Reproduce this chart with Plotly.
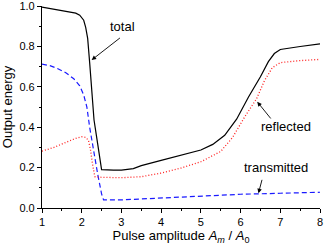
import plotly.graph_objects as go

# total output energy (black solid)
total_x = [1.0, 1.3, 1.6, 1.75, 1.85, 1.95, 2.05, 2.1, 2.15, 2.2, 2.25, 2.31, 2.4, 2.5,
           2.8, 3.0, 3.3, 3.5, 4.0, 4.5, 5.0, 5.3, 5.6, 5.9, 6.2, 6.5, 6.7, 6.85, 7.0, 7.5, 8.0]
total_y = [0.995, 0.985, 0.975, 0.968, 0.965, 0.955, 0.93, 0.895, 0.84, 0.72, 0.58, 0.436, 0.32, 0.19,
           0.188, 0.188, 0.195, 0.21, 0.236, 0.26, 0.287, 0.315, 0.36, 0.44, 0.55, 0.65, 0.725, 0.765, 0.785, 0.80, 0.813]

# reflected (red dotted)
refl_x = [1.0, 1.3, 1.6, 1.85, 2.0, 2.1, 2.17, 2.22, 2.27, 2.33, 2.5, 2.8, 3.0, 3.5, 4.0,
          4.5, 5.0, 5.5, 5.8, 6.1, 6.4, 6.6, 6.8, 7.0, 7.5, 8.0]
refl_y = [0.282, 0.30, 0.325, 0.345, 0.353, 0.35, 0.335, 0.29, 0.22, 0.155, 0.152, 0.15, 0.15, 0.155, 0.173,
          0.198, 0.229, 0.28, 0.35, 0.45, 0.54, 0.63, 0.695, 0.72, 0.73, 0.736]

# transmitted (blue dashed)
trans_x = [1.0, 1.2, 1.4, 1.6, 1.8, 1.95, 2.05, 2.13, 2.2, 2.3, 2.4, 2.5, 2.55, 3.0, 4.0, 5.0, 6.0, 7.0, 8.0]
trans_y = [0.713, 0.705, 0.69, 0.67, 0.64, 0.605, 0.56, 0.50, 0.40, 0.275, 0.17, 0.07, 0.04, 0.04, 0.05, 0.059, 0.068, 0.073, 0.078]

labels = ["total", "reflected", "transmitted"]
y_ticks = [0.0, 0.2, 0.4, 0.6, 0.8, 1.0]
y_ticktext = ["0.0", "0.2", "0.4", "0.6", "0.8", "1.0"]

FONT = "Liberation Sans, Arial, sans-serif"

fig = go.Figure()
fig.add_trace(go.Scatter(x=trans_x, y=trans_y, mode="lines",
                         line=dict(color="#1a1aff", width=1.2, dash="5px,3px")))
fig.add_trace(go.Scatter(x=refl_x, y=refl_y, mode="lines",
                         line=dict(color="#ff2020", width=1.3, dash="1px,2px")))
fig.add_trace(go.Scatter(x=total_x, y=total_y, mode="lines",
                         line=dict(color="black", width=1.2)))

# text labels
fig.add_annotation(x=3.02, y=0.90, text=labels[0], showarrow=False, xref="x", yref="y",
                   font=dict(size=13, family=FONT, color="black"))
fig.add_annotation(x=7.15, y=0.405, text=labels[1], showarrow=False, xref="x", yref="y",
                   font=dict(size=13, family=FONT, color="black"))
fig.add_annotation(x=6.89, y=0.20, text=labels[2], showarrow=False, xref="x", yref="y",
                   font=dict(size=13, family=FONT, color="black"))
# arrows
for tip, tail in [((2.25, 0.733), (3.0, 0.848)),
                  ((6.42, 0.526), (6.79, 0.436)),
                  ((6.45, 0.073), (6.55, 0.147))]:
    fig.add_annotation(x=tip[0], y=tip[1], ax=tail[0], ay=tail[1], xref="x", yref="y",
                       axref="x", ayref="y", text="", showarrow=True,
                       arrowhead=2, arrowsize=1, arrowwidth=0.9, arrowcolor="black")

fig.update_layout(
    template="none",
    width=324, height=245,
    margin=dict(l=42, r=4, t=6, b=37),
    paper_bgcolor="white", plot_bgcolor="white",
    showlegend=False,
    font=dict(family=FONT, size=11, color="black"),
)
fig.update_xaxes(
    range=[1, 8], dtick=1, tick0=1, showgrid=False, zeroline=False, automargin=False,
    showline=True, linecolor="black", linewidth=1.2, ticklabeloverflow="allow",
    ticks="outside", ticklen=4, tickwidth=1, tickcolor="black",
    minor=dict(dtick=0.5, ticks="outside", ticklen=2, tickwidth=1, tickcolor="black"),
    tickfont=dict(size=11, family=FONT),
    title=dict(text="Pulse amplitude <i>A</i><sub><i>m</i></sub> / <i>A</i><sub>0</sub>",
               font=dict(size=13, family=FONT), standoff=5),
)
fig.update_yaxes(
    range=[0, 1.0005], tickmode="array", tickvals=y_ticks, ticktext=y_ticktext,
    showgrid=False, zeroline=False, automargin=False, ticklabeloverflow="allow",
    showline=True, linecolor="black", linewidth=1.2,
    ticks="outside", ticklen=4, tickwidth=1, tickcolor="black",
    minor=dict(tickmode="linear", tick0=0, dtick=0.1, ticks="outside", ticklen=2, tickwidth=1, tickcolor="black"),
    tickfont=dict(size=11, family=FONT),
    title=dict(text="Output energy", font=dict(size=13, family=FONT), standoff=4),
)

fig.write_html("out.html", config={"displayModeBar": False},
               post_script="document.body.style.margin='0';")
